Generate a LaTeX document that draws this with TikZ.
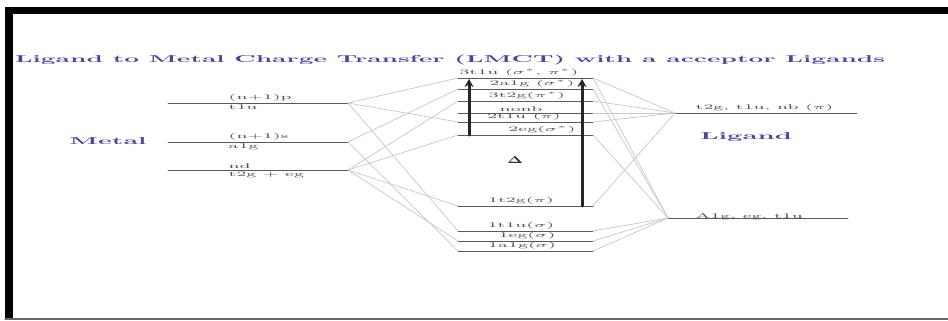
\documentclass[tikz,border=0pt]{standalone}
\usepackage{amsmath}
\usetikzlibrary{arrows.meta}
\definecolor{lmctblue}{RGB}{70,70,165}
\newcommand{\wlab}[1]{\scalebox{2.5}[1]{#1}}

\begin{document}
\begin{tikzpicture}[line cap=round,line join=round,x=1pt,y=-1pt,
  level/.style={line width=0.8pt,color=black!65},
  corr/.style={line width=0.7pt,color=black!22},
  lbl/.style={font=\scriptsize,inner sep=0.5pt,text=black!70},
  head/.style={font=\bfseries,text=lmctblue,inner sep=0pt},
  gap/.style={-{Stealth[length=8pt,width=9pt]},line width=3pt,color=black!85}]
\useasboundingbox (0,0) rectangle (948,321);
\fill[black] (5,7) rectangle (948,14);
\fill[black] (5,7) rectangle (13,318);
\draw[black!60,line width=1.2pt] (5,319) -- (948,319);

\node[head] (title) at (450,60) {\resizebox{870pt}{\height}{Ligand to Metal Charge Transfer (LMCT) with a acceptor Ligands}};
\node[head] (metal) at (108,141) {\resizebox{77pt}{\height}{Metal}};
\node[head] (ligand) at (746,137) {\resizebox{92pt}{\height}{Ligand}};

% metal levels
\foreach \n/\y in {mp/103,ms/142,md/170}{
  \coordinate (\n-l) at (168,\y);
  \coordinate (\n-r) at (348,\y);
  \draw[level] (\n-l) -- (\n-r);
}
\node[lbl,anchor=south west] (lmp1) at (228,102) {\wlab{(n+1)p}};
\node[lbl,anchor=north west] (lmp2) at (228,104) {\wlab{t1u}};
\node[lbl,anchor=south west] (lms1) at (228,141) {\wlab{(n+1)s}};
\node[lbl,anchor=north west] (lms2) at (228,143) {\wlab{a1g}};
\node[lbl,anchor=south west] (lmd1) at (228,169) {\wlab{nd}};
\node[lbl,anchor=north west] (lmd2) at (228,171) {\wlab{t2g + eg}};

% molecular orbitals
\foreach \n/\y in {mo3t1u/78,mo2a1g/89,mo3t2g/101,monb/113,mo2t1u/122,mo2eg/135,
                   mo1t2g/206,mo1t1u/231,mo1eg/241,mo1a1g/251}{
  \coordinate (\n-l) at (458,\y);
  \coordinate (\n-r) at (593,\y);
  \draw[level] (\n-l) -- (\n-r);
}
\node[lbl,anchor=south] (l3t1u) at (519,77) {\wlab{3t1u ($\sigma^*$, $\pi^*$)}};
\node[lbl,anchor=south] (l2a1g) at (532,88) {\wlab{2a1g ($\sigma^*$)}};
\node[lbl,anchor=south] (l3t2g) at (527,100) {\wlab{3t2g($\pi^*$)}};
\node[lbl,anchor=south] (lnb) at (521,112) {\wlab{nonb}};
\node[lbl,anchor=south] (l2t1u) at (524,121) {\wlab{2t1u ($\pi$)}};
\node[lbl,anchor=south] (l2eg) at (542,134) {\wlab{2eg($\sigma^*$)}};
\node[lbl,anchor=south] (l1t2g) at (521,205) {\wlab{1t2g($\pi$)}};
\node[lbl,anchor=south] (l1t1u) at (521,230) {\wlab{1t1u($\sigma$)}};
\node[lbl,anchor=south] (l1eg) at (527,240) {\wlab{1eg($\sigma$)}};
\node[lbl,anchor=south] (l1a1g) at (522,250) {\wlab{1a1g($\sigma$)}};
\node[font=\bfseries\small,text=black!80] (delta) at (515,160) {\scalebox{1.8}[1.1]{$\boldsymbol\Delta$}};

\coordinate (ga0) at (469,135);
\coordinate (ga1) at (469,79);
\coordinate (gb0) at (582,206);
\coordinate (gb1) at (582,79);
\draw[gap] (ga0) -- (ga1);
\draw[gap] (gb0) -- (gb1);

% ligand levels
\coordinate (lp-l) at (675,113);
\coordinate (lp-r) at (857,113);
\coordinate (ls-l) at (668,218);
\coordinate (ls-r) at (848,218);
\draw[level] (lp-l) -- (lp-r);
\draw[level] (ls-l) -- (ls-r);
\node[lbl,anchor=south west] (llp) at (695,112) {\wlab{t2g, t1u, nb ($\pi$)}};
\node[lbl,anchor=south west] (lls) at (695,221) {\wlab{A1g, eg, t1u}};

% correlation lines
\foreach \m in {mo3t1u,mo2t1u,mo1t1u}{\draw[corr] (mp-r) -- (\m-l);}
\foreach \m in {mo2a1g,mo1a1g}{\draw[corr] (ms-r) -- (\m-l);}
\foreach \m in {mo3t2g,mo2eg,mo1t2g,mo1eg}{\draw[corr] (md-r) -- (\m-l);}
\foreach \m in {mo3t1u,mo3t2g,monb,mo2t1u,mo1t2g}{\draw[corr] (\m-r) -- (lp-l);}
\foreach \m in {mo3t1u,mo2a1g,mo2eg,mo1t1u,mo1eg,mo1a1g}{\draw[corr] (\m-r) -- (ls-l);}
\end{tikzpicture}
\end{document}
